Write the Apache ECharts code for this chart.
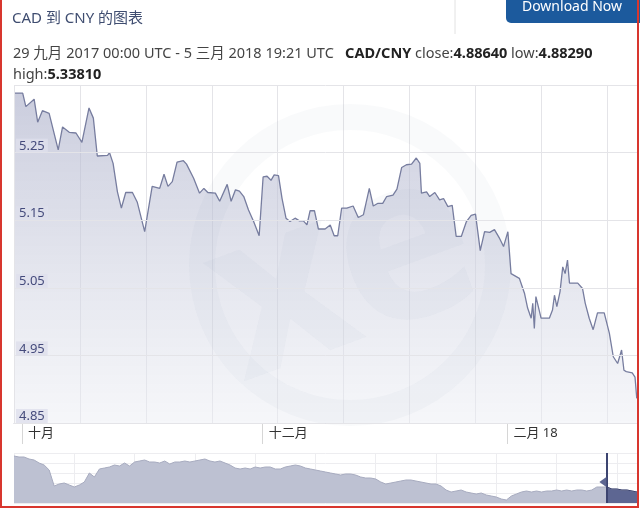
<!DOCTYPE html>
<html>
<head>
<meta charset="utf-8">
<script src="https://cdn.jsdelivr.net/npm/echarts@6/dist/echarts.min.js"></script>
<style>
  html, body { margin: 0; padding: 0; background: #fff; }
  #rate-chart { width: 640px; height: 509px; }
</style>
</head>
<body>
<div id="rate-chart"></div>
<script>
// CAD/CNY, days since 29 Sep 2017 00:00 UTC
const dayOffsets = [
  0.25, 2.2, 3.0, 5.1, 6.0, 7.2, 8.9, 11.2, 12.3, 14.0, 15.7, 17.2, 19.0, 20.1, 21.1, 23.7, 24.2, 25.1,
  26.2, 27.2, 28.3, 30.0, 31.2, 33.1, 35.0, 36.9, 38.0, 39.0, 40.1, 41.3, 42.9, 43.7, 45.5, 47.0, 48.1,
  49.1, 51.0, 52.1, 54.0, 55.0, 56.1, 57.1, 58.2, 59.4, 60.7, 62.1, 63.1, 64.1, 65.1, 65.9, 67.0, 67.9,
  68.9, 69.9, 71.2, 72.3, 73.3, 74.2, 75.0, 76.1, 77.1, 78.8, 80.1, 81.1, 82.0, 83.0, 84.3, 85.9, 87.2,
  88.5, 90.0, 91.0, 92.2, 93.4, 94.4, 96.0, 97.0, 98.2, 99.4, 100.7, 101.9, 102.8, 103.2, 104.5, 105.3,
  106.6, 107.8, 108.8, 109.9, 111.0, 112.0, 113.3, 114.6, 115.8, 116.9, 118.1, 119.2, 120.5, 121.7,
  123.0, 124.0, 125.1, 125.9, 128.0, 129.3, 130.1, 131.0, 131.4, 131.8, 132.2, 133.1, 133.5, 134.3,
  135.6, 136.4, 136.9, 137.5, 138.3, 139.0, 139.6, 140.2, 140.7, 142.8, 144.0, 144.7, 145.7, 146.7,
  147.8, 149.5, 150.8, 151.8, 152.9, 153.9, 154.5, 155.1, 156.6, 157.3, 157.75
]
const rates = [
  5.338, 5.338, 5.318, 5.329, 5.295, 5.312, 5.308, 5.254, 5.288, 5.280, 5.279, 5.265, 5.316, 5.301, 5.245, 5.246, 5.250, 5.234,
  5.192, 5.168, 5.191, 5.191, 5.177, 5.133, 5.200, 5.197, 5.218, 5.200, 5.207, 5.236, 5.238, 5.233, 5.212, 5.190, 5.197,
  5.191, 5.190, 5.178, 5.203, 5.178, 5.195, 5.193, 5.185, 5.165, 5.148, 5.127, 5.214, 5.215, 5.209, 5.217, 5.216, 5.182,
  5.153, 5.148, 5.153, 5.149, 5.149, 5.143, 5.164, 5.164, 5.137, 5.137, 5.143, 5.127, 5.127, 5.168, 5.168, 5.171, 5.154,
  5.158, 5.197, 5.171, 5.175, 5.175, 5.185, 5.187, 5.196, 5.228, 5.232, 5.233, 5.242, 5.234, 5.190, 5.192, 5.185,
  5.191, 5.180, 5.182, 5.170, 5.172, 5.126, 5.126, 5.148, 5.157, 5.159, 5.105, 5.133, 5.132, 5.136,
  5.123, 5.111, 5.133, 5.071, 5.064, 5.042, 5.020, 5.005, 5.027, 4.990, 5.037, 5.015, 5.005, 5.005,
  5.005, 5.017, 5.039, 5.022, 5.044, 5.081, 5.071, 5.091, 5.057, 5.057, 5.049, 5.027, 5.005, 4.988,
  5.013, 5.013, 4.983, 4.948, 4.938, 4.958, 4.928, 4.926, 4.924, 4.918, 4.8864
]
// month starts (day offset) and their labels
const monthDays = [2, 63, 125]
const monthNames = ['十月', '十二月', '二月 18']
const lastDay = 157.806   // 5 三月 2018 19:21 UTC

// navigator (long history), relative level
const navLevels = [
  47, 46, 46, 44, 43, 40, 38, 33, 17, 19, 20, 18, 16, 18, 21, 30, 26, 34, 35, 36, 38, 37, 40, 37, 41,
  42, 43, 41, 41, 40, 42, 39, 41, 41, 42, 41, 42, 43, 44, 42, 41, 42, 40, 38, 35, 34, 35, 34, 36, 35,
  36, 36, 34, 34, 36, 37, 38, 37, 35, 34, 33, 32, 31, 30, 29, 28, 29, 29, 28, 26, 25, 25, 24, 21, 19,
  20, 21, 22, 23, 23, 22, 21, 20, 19, 19, 17, 13, 11, 12, 13, 11, 10, 9, 10, 8, 7, 6, 4, 3, 7,
  9, 11, 12, 11, 12, 11, 12, 12, 13, 12, 13, 12, 13, 13, 12, 13, 16, 16, 16, 14, 14, 13, 13, 12, 11
]
const navSelStart = 118

var myChart = echarts.init(document.getElementById('rate-chart'))

const mainData = dayOffsets.map((d, i) => [d, rates[i]])
const navIdx = navLevels.map((v, i) => i)
const navSel = navLevels.map((v, i) => (i >= navSelStart ? v : '-'))

const font = '"Noto Sans", "Noto Sans CJK SC", sans-serif'

var option = {
  animation: false,
  textStyle: {fontFamily: font},
  grid: [
    {left: 14, right: 3, top: 85, height: 338},
    {left: 14, right: 3, top: 453, height: 50}
  ],
  xAxis: [
    {
      type: 'value',
      gridIndex: 0,
      min: 0,
      max: lastDay,
      axisLine: {show: true, onZero: false, lineStyle: {color: '#c3c6d6', width: 1}},
      axisTick: {
        show: true,
        customValues: monthDays,
        length: 21,
        lineStyle: {color: '#d6d6d6'}
      },
      axisLabel: {
        customValues: monthDays,
        formatter: (v) => monthNames[monthDays.indexOf(v)] || '',
        color: '#333',
        fontSize: 13,
        align: 'left',
        margin: 4,
        padding: [0, 0, 0, 6]
      },
      splitLine: {show: false}
    },
    {
      // vertical grid lines
      type: 'value',
      gridIndex: 0,
      min: 0,
      max: 9.45,
      interval: 1,
      axisLine: {show: false},
      axisTick: {show: false},
      axisLabel: {show: false},
      splitLine: {show: true, lineStyle: {color: '#e4e4e8'}}
    },
    {
      type: 'category',
      gridIndex: 1,
      data: navIdx,
      boundaryGap: false,
      axisLine: {show: false},
      axisTick: {show: false},
      axisLabel: {show: false},
      splitLine: {show: true, interval: 11, lineStyle: {color: '#ededf0'}}
    }
  ],
  yAxis: [
    {
      type: 'value',
      gridIndex: 0,
      z: 10,
      min: 4.85,
      max: 5.35,
      interval: 0.1,
      axisLine: {show: false},
      axisTick: {show: false},
      splitLine: {lineStyle: {color: '#e4e4e8'}},
      axisLabel: {
        inside: true,
        showMaxLabel: false,
        formatter: (v) => v.toFixed(2),
        color: '#454b7c',
        fontSize: 13,
        verticalAlign: 'bottom',
        margin: 2,
        padding: [1, 3, 0, 3],
        backgroundColor: 'rgba(222,224,236,0.8)'
      }
    },
    {
      type: 'value',
      gridIndex: 1,
      min: 0,
      max: 50,
      interval: 10,
      axisLine: {show: false},
      axisTick: {show: false},
      axisLabel: {show: false},
      splitLine: {lineStyle: {color: '#ededf0'}}
    }
  ],
  series: [
    {
      type: 'line',
      xAxisIndex: 0,
      yAxisIndex: 0,
      data: mainData,
      showSymbol: false,
      lineStyle: {color: '#777d9f', width: 1.3},
      areaStyle: {
        color: new echarts.graphic.LinearGradient(0, 0, 0, 1, [
          {offset: 0, color: 'rgba(172,176,202,0.9)'},
          {offset: 1, color: 'rgba(236,238,244,0.7)'}
        ])
      },
      z: 3
    },
    {
      type: 'line',
      xAxisIndex: 2,
      yAxisIndex: 1,
      data: navLevels,
      showSymbol: false,
      lineStyle: {color: '#a7abbf', width: 1},
      areaStyle: {color: '#bdc1d2', opacity: 1}
    },
    {
      type: 'line',
      xAxisIndex: 2,
      yAxisIndex: 1,
      data: navSel,
      showSymbol: false,
      lineStyle: {color: '#3c4470', width: 1},
      areaStyle: {color: '#5d6692', opacity: 1},
      markLine: {
        silent: true,
        symbol: 'none',
        label: {show: false},
        lineStyle: {color: '#3c4470', width: 2, type: 'solid'},
        data: [{xAxis: navSelStart}]
      },
      markPoint: {
        silent: true,
        symbol: 'triangle',
        symbolSize: [10, 7],
        symbolRotate: 90,
        symbolOffset: [-4, 0],
        itemStyle: {color: '#5d6692'},
        label: {show: false},
        data: [{coord: [navSelStart, 21]}]
      }
    }
  ],
  graphic: [
    // xe watermark
    {
      type: 'circle',
      shape: {cx: 350, cy: 265, r: 148},
      style: {fill: 'none', stroke: 'rgba(110,115,160,0.04)', lineWidth: 26},
      silent: true,
      z: 4
    },
    {
      type: 'text',
      x: 345, y: 275,
      rotation: 0.35,
      style: {
        text: 'xe', fontSize: 230, fontWeight: 'bold', fontFamily: font,
        fill: 'rgba(110,115,160,0.04)', align: 'center', verticalAlign: 'middle'
      },
      silent: true,
      z: 4
    },
    // header
    {
      type: 'text',
      left: 12, top: 11,
      style: {text: 'CAD 到 CNY 的图表', fontSize: 15, fontFamily: font, fill: '#3f4d70'}
    },
    {
      type: 'line',
      shape: {x1: 455, y1: 0, x2: 455, y2: 34},
      style: {stroke: '#e2e2e2', lineWidth: 1}
    },
    {
      type: 'rect',
      shape: {x: 506, y: -6, width: 140, height: 29, r: 5},
      style: {fill: '#1c5a9d'}
    },
    {
      type: 'text',
      x: 572, y: 7,
      style: {
        text: 'Download Now', fontSize: 14, fontFamily: font, fill: '#fff',
        align: 'center', verticalAlign: 'middle'
      }
    },
    {
      type: 'text',
      left: 13, top: 43,
      style: {
        text: '29 九月 2017 00:00 UTC - 5 三月 2018 19:21 UTC   {b|CAD/CNY} close:{b|4.88640} low:{b|4.88290}\nhigh:{b|5.33810}',
        fontSize: 14.5, fontFamily: font, fill: '#444', lineHeight: 21,
        rich: {b: {fontSize: 14.5, fontWeight: 'bold', fill: '#222', fontFamily: font, lineHeight: 21}}
      }
    },
    // red frame
    {
      type: 'polyline',
      shape: {points: [[1, 0], [1, 507], [638, 507], [638, 0]]},
      style: {fill: 'none', stroke: '#d8362e', lineWidth: 2},
      z: 20
    }
  ]
}
myChart.setOption(option)
</script>
</body>
</html>
